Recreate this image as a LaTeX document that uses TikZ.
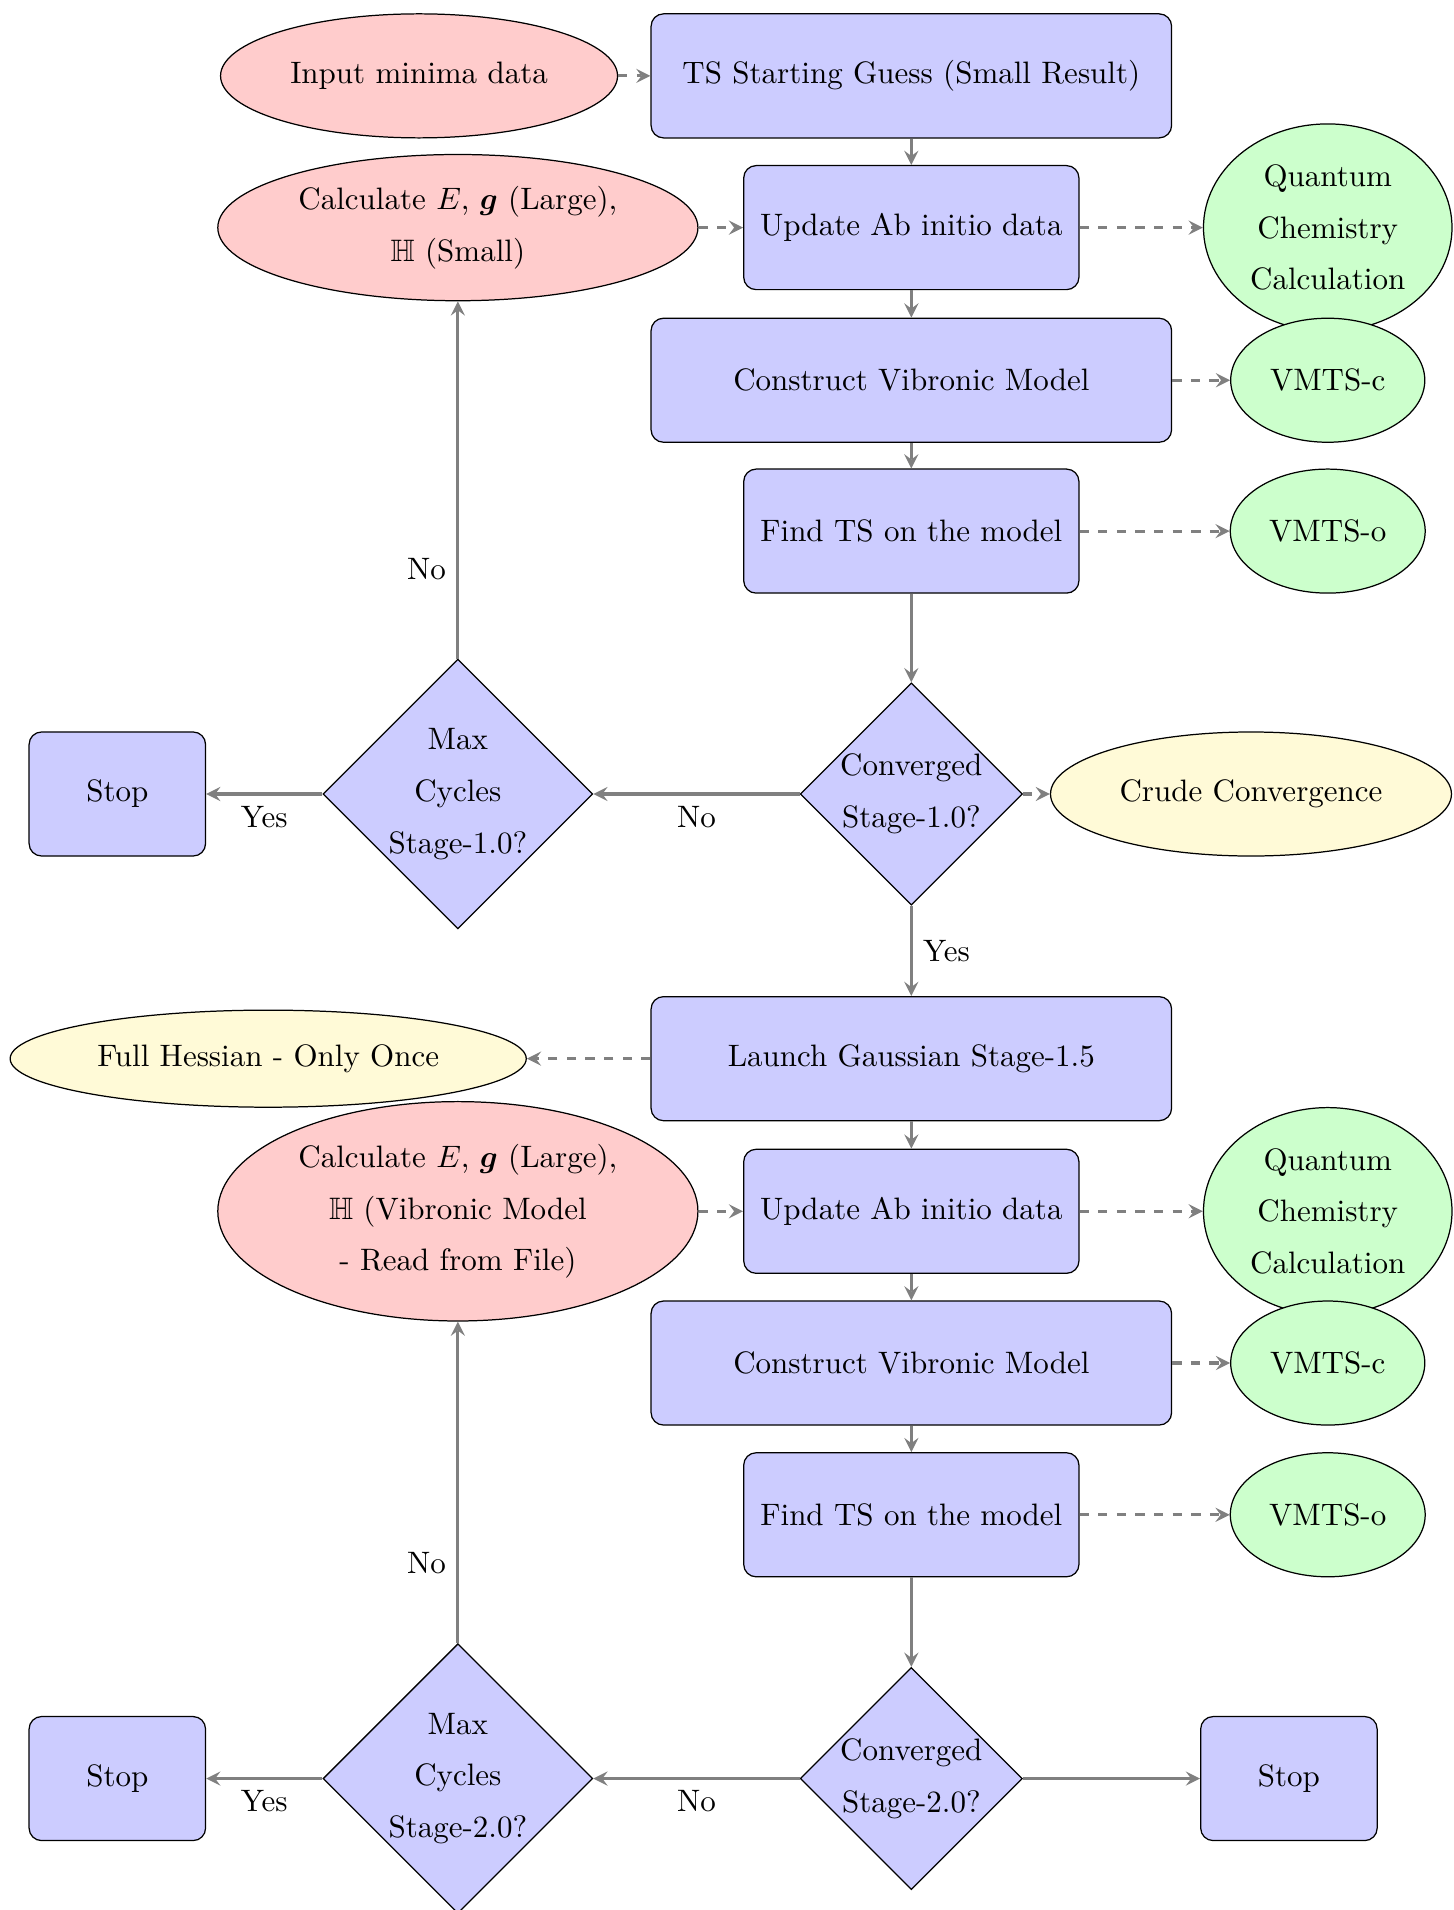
\documentclass[tikz,border=0pt]{standalone}
\usepackage{amsmath,amssymb}
\usetikzlibrary{shapes.geometric}
\definecolor{cream}{RGB}{255,250,215}

\begin{document}
\begin{tikzpicture}[font=\linespread{1.39}\selectfont,>=stealth,
		box/.style={draw,rounded corners,fill=blue!20,minimum height=4em,align=center},
		calc/.style={draw,ellipse,fill=red!20,align=center},
		ext/.style={draw,ellipse,fill=green!20,align=center},
		info/.style={draw,ellipse,fill=cream,align=center},
		test/.style={draw,diamond,fill=blue!20,align=center,inner sep=0pt},
		line/.style={draw=gray,line width=1pt,->},
		link/.style={draw=gray,line width=1pt,dashed,->}]
		\useasboundingbox (0,0) rectangle (16.48,-21.65);
		% stage 1.0
		\node[calc,minimum width=4.5cm,minimum height=4em] (1) at (4.75,-0.86) {Input minima data};
		\node[box,minimum width=5.9cm] (2) at (10.33,-0.86) {TS Starting Guess (Small Result)};
		\node[calc] (3) at (5.19,-2.58) {Calculate $E$, $\boldsymbol{g}$ (Large),\\$\mathbb{H}$ (Small)};
		\node[box,minimum width=3.8cm] (4) at (10.33,-2.58) {Update Ab initio data};
		\node[ext] (5) at (15.05,-2.58) {Quantum\\Chemistry\\Calculation};
		\node[box,minimum width=5.9cm] (6) at (10.33,-4.31) {Construct Vibronic Model};
		\node[ext,minimum width=2.2cm,minimum height=4em] (7) at (15.05,-4.31) {VMTS-c};
		\node[box,minimum width=3.8cm] (8) at (10.33,-6.02) {Find TS on the model};
		\node[ext,minimum width=2.2cm,minimum height=4em] (9) at (15.05,-6.02) {VMTS-o};
		\node[test] (10) at (10.33,-9.00) {Converged\\Stage-1.0?};
		\node[info,minimum height=4em] (11) at (14.18,-9.00) {Crude Convergence};
		\node[test] (12) at (5.19,-9.00) {Max\\Cycles\\Stage-1.0?};
		\node[box,minimum width=2cm] (13) at (1.33,-9.00) {Stop};
		% stage 1.5 and 2.0
		\node[box,minimum width=5.9cm] (14) at (10.33,-12.00) {Launch Gaussian Stage-1.5};
		\node[info,minimum width=5.85cm,minimum height=1.1cm] (15) at (3.04,-12.00) {Full Hessian - Only Once};
		\node[calc] (16) at (5.19,-13.73) {Calculate $E$, $\boldsymbol{g}$ (Large),\\$\mathbb{H}$ (Vibronic Model\\- Read from File)};
		\node[box,minimum width=3.8cm] (17) at (10.33,-13.73) {Update Ab initio data};
		\node[ext] (18) at (15.05,-13.73) {Quantum\\Chemistry\\Calculation};
		\node[box,minimum width=5.9cm] (19) at (10.33,-15.45) {Construct Vibronic Model};
		\node[ext,minimum width=2.2cm,minimum height=4em] (20) at (15.05,-15.45) {VMTS-c};
		\node[box,minimum width=3.8cm] (21) at (10.33,-17.17) {Find TS on the model};
		\node[ext,minimum width=2.2cm,minimum height=4em] (22) at (15.05,-17.17) {VMTS-o};
		\node[test] (23) at (10.33,-20.16) {Converged\\Stage-2.0?};
		\node[test] (24) at (5.19,-20.16) {Max\\Cycles\\Stage-2.0?};
		\node[box,minimum width=2cm] (25) at (1.33,-20.16) {Stop};
		\node[box,minimum width=2cm] (26) at (14.61,-20.16) {Stop};

		\draw[link] (1) -- (2);
		\draw[line] (2) -- (4);
		\draw[link] (3) -- (4);
		\draw[link] (4) -- (5);
		\draw[line] (4) -- (6);
		\draw[link] (6) -- (7);
		\draw[line] (6) -- (8);
		\draw[link] (8) -- (9);
		\draw[line] (8) -- (10);
		\draw[link] (10) -- (11);
		\draw[line] (10) --node[below]{No} (12);
		\draw[line] (12) --node[below]{Yes} (13);
		\draw[line] (12) --node[pos=0.25,left]{No} (3);
		\draw[line] (10) --node[right]{Yes} (14);

		\draw[link] (14) -- (15);
		\draw[line] (14) -- (17);
		\draw[link] (16) -- (17);
		\draw[link] (17) -- (18);
		\draw[line] (17) -- (19);
		\draw[link] (19) -- (20);
		\draw[line] (19) -- (21);
		\draw[link] (21) -- (22);
		\draw[line] (21) -- (23);
		\draw[line] (23) --node[below]{No} (24);
		\draw[line] (24) --node[below]{Yes} (25);
		\draw[line] (24) --node[pos=0.25,left]{No} (16);
		\draw[line] (23) -- (26);
	\end{tikzpicture}
\end{document}
